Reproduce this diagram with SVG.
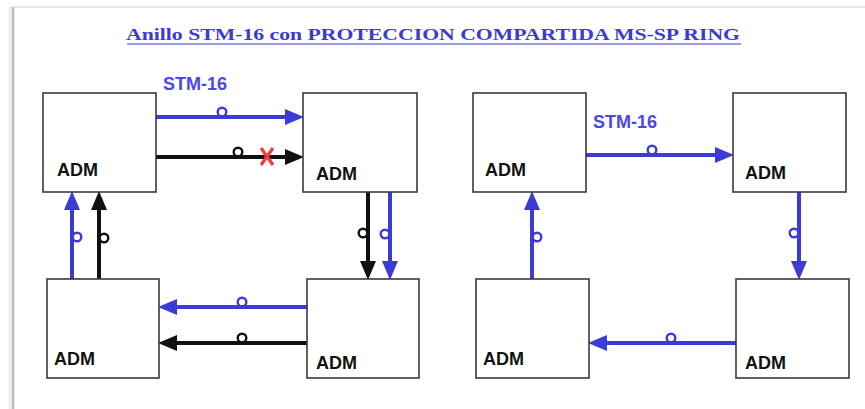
<svg xmlns="http://www.w3.org/2000/svg" width="865" height="409" viewBox="0 0 865 409">
<defs>
<style>
.box{fill:#fff;stroke:#3a3a3a;stroke-width:1.6}
.adm{font-family:"Liberation Sans",Arial,sans-serif;font-weight:bold;font-size:18px;fill:#111}
.stm{font-family:"Liberation Sans",Arial,sans-serif;font-weight:bold;font-size:18px;fill:#4b46ee}
.b{stroke:#3b3bd6;stroke-width:4;fill:none}
.k{stroke:#111;stroke-width:4;fill:none}
.lb{stroke:#3b3bd6;stroke-width:2.4;fill:#fff}
.lk{stroke:#111;stroke-width:2.4;fill:#fff}
</style>
<marker id="ab" markerUnits="userSpaceOnUse" markerWidth="19" markerHeight="16" refX="9" refY="8" orient="auto"><path d="M0,0 L19,8 L0,16 z" fill="#3b3bd6"/></marker>
<marker id="ak" markerUnits="userSpaceOnUse" markerWidth="19" markerHeight="16" refX="9" refY="8" orient="auto"><path d="M0,0 L19,8 L0,16 z" fill="#111"/></marker>
</defs>
<rect width="865" height="409" fill="#fff"/>
<g id="frame">
<line x1="13" y1="7" x2="865" y2="7" stroke="#e6e6e6" stroke-width="2"/>
<line x1="13" y1="7" x2="13" y2="409" stroke="#bdbdbd" stroke-width="2.5"/>
<line x1="10" y1="7" x2="10" y2="409" stroke="#ececec" stroke-width="3"/>
</g>
<g id="title">
<text x="433" y="40" text-anchor="middle" font-family="'Liberation Serif','Times New Roman',serif" font-weight="bold" font-size="17" fill="#3a3ad8" textLength="614" lengthAdjust="spacingAndGlyphs">Anillo STM-16 con PROTECCION COMPARTIDA MS-SP RING</text>
<line x1="127" y1="44" x2="741" y2="44" stroke="#3a3ad8" stroke-width="1.2"/>
</g>
<g id="connectors">
<!-- left ring -->
<path class="b" d="M156,117 H294" marker-end="url(#ab)"/>
<circle class="lb" cx="222" cy="112" r="4.3"/>
<path class="k" d="M156,157 H294" marker-end="url(#ak)"/>
<circle class="lk" cx="238" cy="152" r="4.3"/>
<path d="M261,148 L273,165 M273,148 L261,165" stroke="#f23c3c" stroke-width="3.2" fill="none"/>
<path class="k" d="M368,192 V270" marker-end="url(#ak)"/>
<circle class="lk" cx="363" cy="233" r="4.3"/>
<path class="b" d="M390,192 V270" marker-end="url(#ab)"/>
<circle class="lb" cx="385" cy="234" r="4.3"/>
<path class="b" d="M307,307 H168" marker-end="url(#ab)"/>
<circle class="lb" cx="242" cy="302" r="4.3"/>
<path class="k" d="M307,343 H168" marker-end="url(#ak)"/>
<circle class="lk" cx="242" cy="338" r="4.3"/>
<path class="b" d="M72,279 V201" marker-end="url(#ab)"/>
<circle class="lb" cx="77" cy="237" r="4.3"/>
<path class="k" d="M99,279 V201" marker-end="url(#ak)"/>
<circle class="lk" cx="104" cy="238" r="4.3"/>
<!-- right ring -->
<path class="b" d="M586,155 H724" marker-end="url(#ab)"/>
<circle class="lb" cx="652" cy="150" r="4.3"/>
<path class="b" d="M799,192 V270" marker-end="url(#ab)"/>
<circle class="lb" cx="794" cy="233" r="4.3"/>
<path class="b" d="M736,343 H598" marker-end="url(#ab)"/>
<circle class="lb" cx="671" cy="338" r="4.3"/>
<path class="b" d="M532,279 V201" marker-end="url(#ab)"/>
<circle class="lb" cx="537" cy="237" r="4.3"/>
</g>
<g id="labels">
<text class="stm" x="163" y="90">STM-16</text>
<text class="stm" x="593" y="128">STM-16</text>
</g>
<g id="adm-l-tl"><rect class="box" x="43" y="93" width="113" height="99"/><text class="adm" x="57" y="176">ADM</text></g>
<g id="adm-l-tr"><rect class="box" x="303" y="93" width="114" height="99"/><text class="adm" x="316" y="180">ADM</text></g>
<g id="adm-l-bl"><rect class="box" x="47" y="279" width="112" height="99"/><text class="adm" x="54" y="365">ADM</text></g>
<g id="adm-l-br"><rect class="box" x="307" y="279" width="112" height="99"/><text class="adm" x="316" y="369">ADM</text></g>
<g id="adm-r-tl"><rect class="box" x="473" y="93" width="113" height="99"/><text class="adm" x="485" y="176">ADM</text></g>
<g id="adm-r-tr"><rect class="box" x="733" y="93" width="113" height="99"/><text class="adm" x="745" y="179">ADM</text></g>
<g id="adm-r-bl"><rect class="box" x="476" y="279" width="113" height="99"/><text class="adm" x="483" y="365">ADM</text></g>
<g id="adm-r-br"><rect class="box" x="736" y="279" width="113" height="99"/><text class="adm" x="745" y="369">ADM</text></g>
</svg>
